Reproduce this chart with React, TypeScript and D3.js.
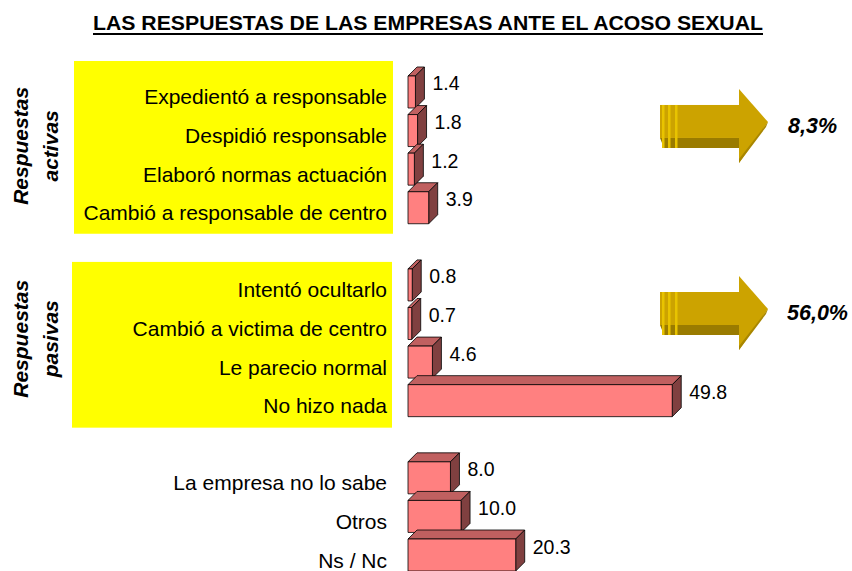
import React from 'react';
import * as d3 from 'd3';

const activeLabels = ['Expedientó a responsable', 'Despidió responsable', 'Elaboró normas actuación', 'Cambió a responsable de centro'];
const activeValues = [1.4, 1.8, 1.2, 3.9];
const passiveLabels = ['Intentó ocultarlo', 'Cambió a victima de centro', 'Le parecio normal', 'No hizo nada'];
const passiveValues = [0.8, 0.7, 4.6, 49.8];
const otherLabels = ['La empresa no lo sabe', 'Otros', 'Ns / Nc'];
const otherValues = [8.0, 10.0, 20.3];
const groupTitles = [['Respuestas', 'activas'], ['Respuestas', 'pasivas']];
const groupTotals = [8.3, 56.0];

const W = 852;
const H = 571;
const FONT = '"Liberation Sans", Arial, sans-serif';
const DEPTH = 9;

// rows, with empty slots between the groups
const rows = [
  ...activeLabels.map((label, i) => ({ key: label, label, value: activeValues[i] })),
  { key: 'gap1', label: '', value: null },
  ...passiveLabels.map((label, i) => ({ key: label, label, value: passiveValues[i] })),
  { key: 'gap2', label: '', value: null },
  ...otherLabels.map((label, i) => ({ key: label, label, value: otherValues[i] })),
];

const x = d3.scaleLinear().domain([0, 50]).range([408, 673.3]);
const y = d3.scaleBand().domain(rows.map(r => r.key)).range([77.7, 579.3]);
const mid = (k) => y(k) + y.bandwidth() / 2;

const fmtPct = (v) => d3.format('.1f')(v).replace('.', ',') + '%';

const Arrow = ({ top }) => {
  const x0 = 660, hx = 739, tx = 768;
  const shaftTop = top + 16, faceBot = top + 49, darkBot = top + 59;
  return (
    <g>
      <polygon points={`${x0},${faceBot} ${hx},${faceBot} ${hx},${darkBot} ${x0 + 4},${darkBot}`} fill="#9a7b00" />
      <rect x={x0} y={shaftTop} width={hx - x0} height={faceBot - shaftTop} fill="#cca300" />
      <polygon points={`${hx},${top} ${tx},${top + 33} ${hx},${top + 74}`} fill="#cca300" />
      <polygon points={`${tx},${top + 33} ${tx - 2},${top + 38} ${hx},${top + 74} ${hx},${top + 70}`} fill="#a88600" />
      {[662, 668, 675].map(sx => (
        <rect key={sx} x={sx} y={shaftTop} width={2.5} height={darkBot - shaftTop} fill="#e8c300" />
      ))}
    </g>
  );
};

const App = () => {
  const g1 = activeLabels.map(mid);
  const g2 = passiveLabels.map(mid);
  return (
    <svg width={W} height={H} style={{ position: 'absolute', left: 0, top: 0 }} fontFamily={FONT}>
      <rect width={W} height={H} fill="#fff" />

      {/* title */}
      <text x={428} y={30} textAnchor="middle" fontSize={21} fontWeight="bold"
        textLength={670} lengthAdjust="spacingAndGlyphs">LAS RESPUESTAS DE LAS EMPRESAS ANTE EL ACOSO SEXUAL</text>
      <line x1={93} x2={763} y1={34} y2={34} stroke="#000" strokeWidth={2} />

      {/* yellow group boxes */}
      <rect x={74} y={g1[0] - 36} width={319} height={g1[3] + 21 - (g1[0] - 36)} fill="#ffff00" />
      <rect x={72} y={g2[0] - 28} width={320} height={g2[3] + 22 - (g2[0] - 28)} fill="#ffff00" />

      {/* group titles */}
      {[g1, g2].map((g, i) => {
        const cy = (g[0] + g[3]) / 2 - 9;
        return (
          <g key={i} transform={`translate(0,${cy}) rotate(-90)`} fontSize={21} fontWeight="bold" fontStyle="italic" textAnchor="middle">
            <text x={0} y={28}>{groupTitles[i][0]}</text>
            <text x={0} y={57.5}>{groupTitles[i][1]}</text>
          </g>
        );
      })}

      {/* category labels */}
      {rows.filter(r => r.value !== null).map(r => (
        <text key={r.key} x={387} y={mid(r.key) + 7.5} textAnchor="end" fontSize={21}>{r.label}</text>
      ))}

      {/* 3D bars */}
      {rows.filter(r => r.value !== null).map(r => {
        const x0 = x(0), x1 = x(r.value);
        const yt = mid(r.key) - 21, yb = mid(r.key) + 11;
        return (
          <g key={r.key} stroke="#000" strokeWidth={0.8} strokeLinejoin="round">
            <polygon points={`${x0},${yt} ${x0 + DEPTH},${yt - DEPTH} ${x1 + DEPTH},${yt - DEPTH} ${x1},${yt}`} fill="#c06060" />
            <polygon points={`${x1},${yt} ${x1 + DEPTH},${yt - DEPTH} ${x1 + DEPTH},${yb - DEPTH} ${x1},${yb}`} fill="#804040" />
            <rect x={x0} y={yt} width={x1 - x0} height={yb - yt} fill="#ff8080" />
            <text x={x1 + DEPTH + 8} y={yt + 14.5} fontSize={19.5} stroke="none" fill="#000">{d3.format('.1f')(r.value)}</text>
          </g>
        );
      })}

      {/* arrows with group totals */}
      <Arrow top={g1[1] - 46.6} />
      <Arrow top={g2[1] - 52.5} />
      <text x={788} y={g1[1] - 2.3} fontSize={21.5} fontWeight="bold" fontStyle="italic">{fmtPct(groupTotals[0])}</text>
      <text x={787} y={g2[1] - 8.5} fontSize={21.5} fontWeight="bold" fontStyle="italic">{fmtPct(groupTotals[1])}</text>
    </svg>
  );
};

export default App;
